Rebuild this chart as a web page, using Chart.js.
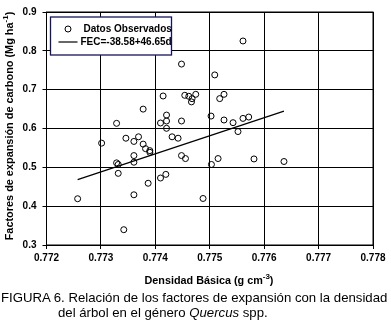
<!DOCTYPE html>
<html>
<head>
<meta charset="utf-8">
<script src="https://cdn.jsdelivr.net/npm/chart.js@4"></script>
<style>
  body { margin: 0; background: #fff; }
  #wrap { position: relative; width: 391px; height: 322px; font-family: 'Liberation Sans', Arial, sans-serif; }
  #grafico { position: absolute; left: 0; top: 0; }
  .pie { position: absolute; font-size: 13.2px; color: #000; white-space: nowrap; }
</style>
</head>
<body>
<div id="wrap">
  <canvas id="grafico" width="391" height="322"></canvas>
  <div class="pie" style="left:1px; top:290px;">FIGURA 6. Relación de los factores de expansión con la densidad</div>
  <div class="pie" style="left:58px; top:305px;">del árbol en el género <i>Quercus</i> spp.</div>
</div>
<script>
// Datos observados
const densidad = [
  0.774143, 0.774541, 0.774615, 0.774743, 0.774675, 0.774664, 0.775183, 0.775262,
  0.773776, 0.773288, 0.774206, 0.774095, 0.774206, 0.774206, 0.774481, 0.775024,
  0.773459, 0.773606, 0.773691, 0.773776, 0.773820, 0.773899, 0.773899, 0.774308,
  0.774418, 0.774481, 0.774554, 0.773606, 0.773606, 0.773288, 0.773318, 0.773318,
  0.775031, 0.775153, 0.774193, 0.774095, 0.773868, 0.775611, 0.775092, 0.775262,
  0.775428, 0.775611, 0.775716, 0.775519, 0.775813, 0.776364, 0.774877, 0.773013,
  0.773606, 0.772572, 0.773420, 0.774481
];
const factores = [
  0.6837, 0.6855, 0.6830, 0.6880, 0.6768, 0.6685, 0.6770, 0.6880,
  0.6499, 0.6133, 0.6346, 0.6142, 0.6193, 0.6005, 0.6193, 0.6320,
  0.5750, 0.5667, 0.5786, 0.5598, 0.5481, 0.5430, 0.5387, 0.5786,
  0.5750, 0.5303, 0.5226, 0.5303, 0.5132, 0.5115, 0.5074, 0.4845,
  0.5074, 0.5226, 0.4819, 0.4725, 0.4590, 0.8254, 0.7380, 0.6219,
  0.6150, 0.6260, 0.6295, 0.5921, 0.5216, 0.5150, 0.4198, 0.5623,
  0.4293, 0.4191, 0.3394, 0.7659
];
// Recta de ajuste (extremos)
const ajusteX = [0.772572, 0.776364];
const ajusteY = [0.4682, 0.6448];

const ticksX = [0.772, 0.773, 0.774, 0.775, 0.776, 0.777, 0.778];
const ticksY = [0.3, 0.4, 0.5, 0.6, 0.7, 0.8, 0.9];

const FUENTE = "'Liberation Sans', Arial, sans-serif";

// Texto con superíndice
function textoSup(ctx, base, sup, x, y, size) {
  ctx.font = `bold ${size}px ${FUENTE}`;
  const w1 = ctx.measureText(base).width;
  ctx.font = `bold ${Math.round(size * 0.7)}px ${FUENTE}`;
  const w2 = ctx.measureText(sup).width;
  ctx.font = `bold ${size}px ${FUENTE}`;
  const w3 = ctx.measureText(')').width;
  const total = w1 + w2 + w3;
  let x0 = x - total / 2;
  ctx.textAlign = 'left';
  ctx.textBaseline = 'middle';
  ctx.fillText(base, x0, y);
  ctx.font = `bold ${Math.round(size * 0.7)}px ${FUENTE}`;
  ctx.fillText(sup, x0 + w1, y - size * 0.38);
  ctx.font = `bold ${size}px ${FUENTE}`;
  ctx.fillText(')', x0 + w1 + w2, y);
}

// Marco, leyenda y títulos de ejes
const decoracionPlugin = {
  id: 'decoracion',
  afterDraw(chart) {
    const { ctx, chartArea } = chart;
    ctx.save();
    ctx.strokeStyle = '#000';
    ctx.lineWidth = 1;
    ctx.strokeRect(chartArea.left, chartArea.top, chartArea.right - chartArea.left, chartArea.bottom - chartArea.top);

    // leyenda
    const lx = chartArea.left + 4, ly = chartArea.top + 5;
    ctx.fillStyle = '#fff';
    ctx.fillRect(lx, ly, 121, 38);
    ctx.strokeStyle = '#14145a';
    ctx.lineWidth = 1.3;
    ctx.strokeRect(lx, ly, 121, 38);
    const ds = chart.data.datasets;
    ctx.strokeStyle = '#000';
    ctx.lineWidth = 1;
    ctx.beginPath();
    ctx.arc(lx + 17.5, ly + 12, 3, 0, Math.PI * 2);
    ctx.stroke();
    ctx.lineWidth = 1.2;
    ctx.beginPath();
    ctx.moveTo(lx + 8, ly + 25);
    ctx.lineTo(lx + 27, ly + 25);
    ctx.stroke();
    ctx.fillStyle = '#000';
    ctx.font = `bold 10px ${FUENTE}`;
    ctx.textAlign = 'left';
    ctx.textBaseline = 'middle';
    ctx.fillText(ds[0].label, lx + 33, ly + 12);
    ctx.fillText(ds[1].label, lx + 30, ly + 25);

    // título eje X
    textoSup(ctx, 'Densidad Básica (g cm', '-3', 209, 281, 10.8);

    // título eje Y
    ctx.translate(10, 126);
    ctx.rotate(-Math.PI / 2);
    textoSup(ctx, 'Factores de expansión de carbono (Mg ha', '-1', 0, 0, 10.9);
    ctx.restore();
  }
};

const ctx = document.getElementById('grafico').getContext('2d');
new Chart(ctx, {
  type: 'scatter',
  data: {
    datasets: [
      {
        label: 'Datos Observados',
        data: densidad.map((d, i) => ({ x: d, y: factores[i] })),
        pointStyle: 'circle',
        pointRadius: 3,
        pointBorderWidth: 1,
        borderColor: '#000',
        backgroundColor: 'rgba(0,0,0,0)',
      },
      {
        label: 'FEC=-38.58+46.65d',
        type: 'line',
        data: ajusteX.map((d, i) => ({ x: d, y: ajusteY[i] })),
        showLine: true,
        borderColor: '#000',
        borderWidth: 1.2,
        pointRadius: 0,
        fill: false,
      },
    ],
  },
  options: {
    responsive: false,
    animation: false,
    layout: { padding: { left: 0, right: 18, top: 9, bottom: 0 } },
    plugins: {
      legend: { display: false },
      tooltip: { enabled: false },
    },
    scales: {
      x: {
        type: 'linear',
        min: 0.772,
        max: 0.778,
        afterBuildTicks: (scale) => { scale.ticks = ticksX.map((v) => ({ value: v })); },
        afterFit: (scale) => { scale.height = 77; },
        ticks: {
          color: '#000',
          padding: 3,
          font: { family: FUENTE, size: 10, weight: 'bold' },
          callback: (v) => v.toFixed(3),
        },
        grid: {
          color: '#000',
          lineWidth: 1,
          borderDash: [1, 2],
          tickLength: 4,
          tickBorderDash: [],
        },
        border: { display: true, color: '#000', width: 1 },
      },
      y: {
        min: 0.3,
        max: 0.9,
        afterBuildTicks: (scale) => { scale.ticks = ticksY.map((v) => ({ value: v })); },
        afterFit: (scale) => { scale.width = 46.5; },
        ticks: {
          color: '#000',
          padding: 6,
          font: { family: FUENTE, size: 10, weight: 'bold' },
          callback: (v) => v.toFixed(1),
        },
        grid: {
          color: '#000',
          lineWidth: 1,
          borderDash: [1, 2],
          tickLength: 4,
          tickBorderDash: [],
        },
        border: { display: true, color: '#000', width: 1 },
      },
    },
  },
  plugins: [decoracionPlugin],
});
</script>
</body>
</html>
